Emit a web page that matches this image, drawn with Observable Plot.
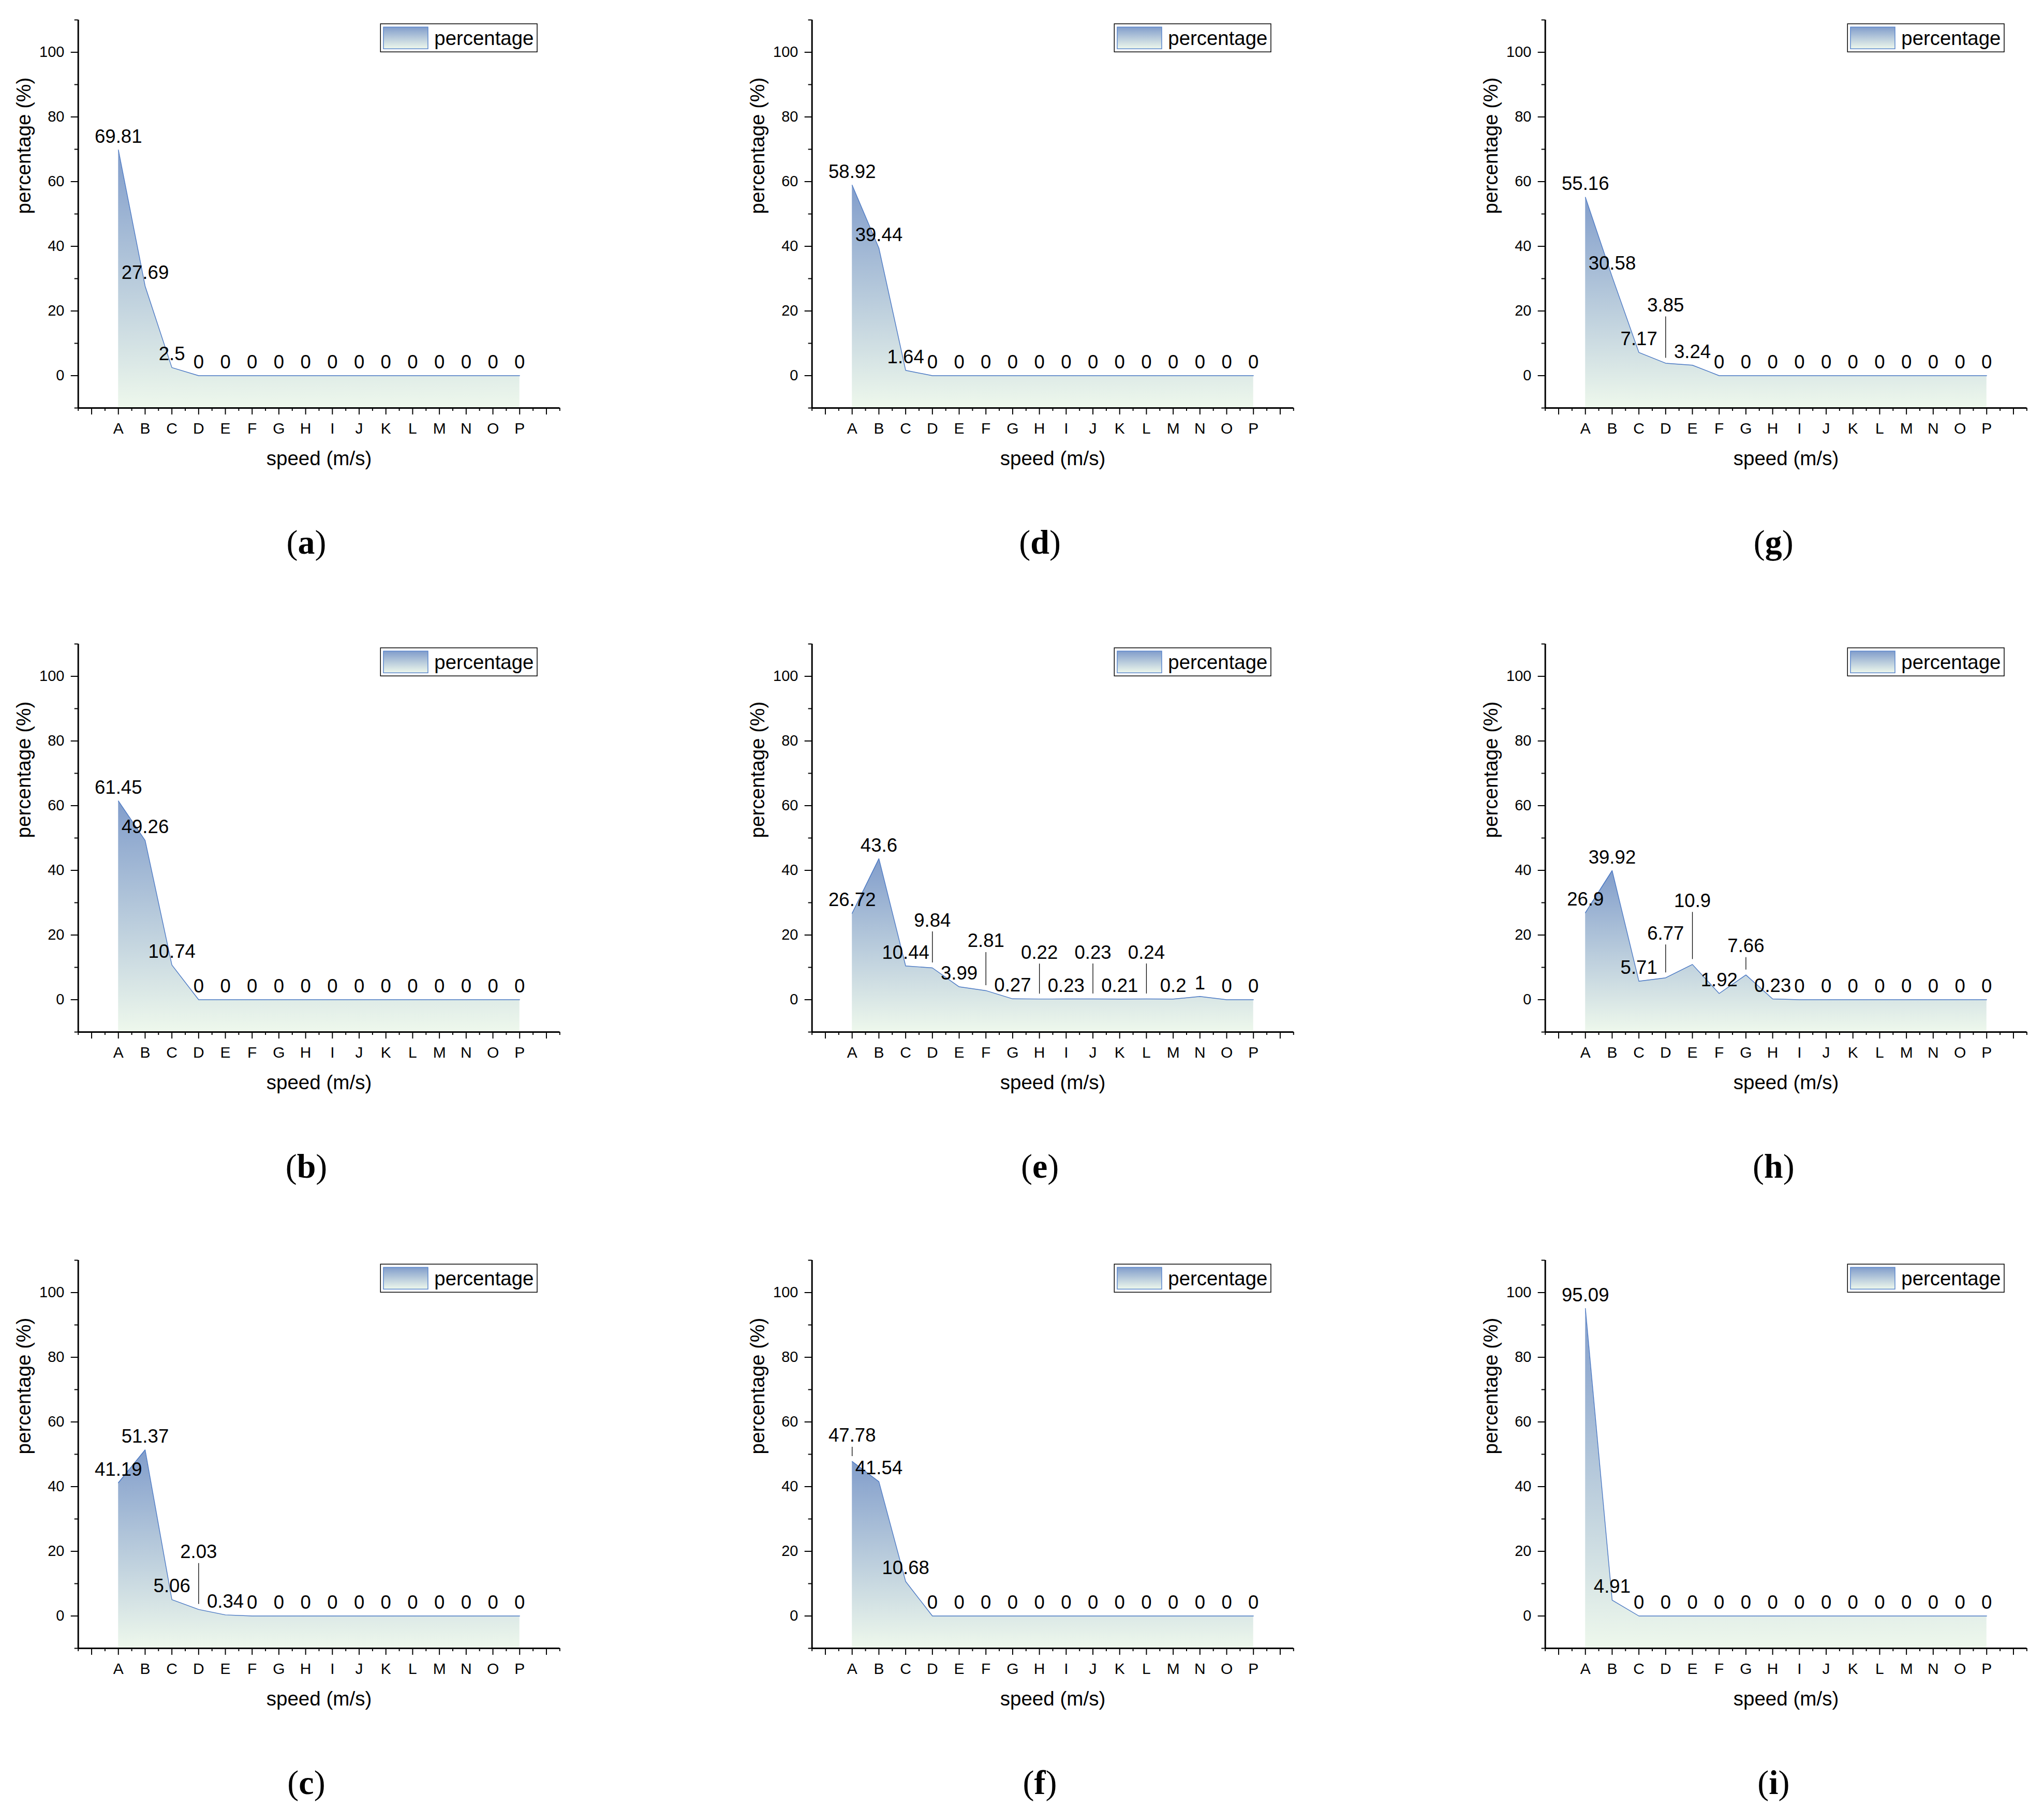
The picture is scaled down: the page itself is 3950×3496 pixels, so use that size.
<!DOCTYPE html>
<html>
<head>
<meta charset="utf-8">
<script src="https://cdn.jsdelivr.net/npm/d3@7"></script>
<script src="https://cdn.jsdelivr.net/npm/@observablehq/plot@0.6"></script>
<style>
  html, body { margin: 0; padding: 0; background: #fff; }
  body { width: 3950px; height: 3496px; position: relative; overflow: hidden; font-family: "Liberation Sans", Arial, sans-serif; }
  .panel { position: absolute; width: 1300px; height: 1160px; }
  .panel svg { position: absolute; left: 0; top: 0; overflow: visible; }
  .cap { position: absolute; left: 0; width: 1184px; text-align: center; top: 1015px;
         font-family: "Liberation Serif", "Times New Roman", serif; font-size: 66px; line-height: 1; color: #000; }
  .cap b { font-weight: bold; }
</style>
</head>
<body>
<script>
// ---------- data ----------
const categories = ["A","B","C","D","E","F","G","H","I","J","K","L","M","N","O","P"];

const valuesA = [69.81, 27.69, 2.5, 0, 0, 0, 0, 0, 0, 0, 0, 0, 0, 0, 0, 0];
const valuesB = [61.45, 49.26, 10.74, 0, 0, 0, 0, 0, 0, 0, 0, 0, 0, 0, 0, 0];
const valuesC = [41.19, 51.37, 5.06, 2.03, 0.34, 0, 0, 0, 0, 0, 0, 0, 0, 0, 0, 0];
const valuesD = [58.92, 39.44, 1.64, 0, 0, 0, 0, 0, 0, 0, 0, 0, 0, 0, 0, 0];
const valuesE = [26.72, 43.6, 10.44, 9.84, 3.99, 2.81, 0.27, 0.22, 0.23, 0.23, 0.21, 0.24, 0.2, 1, 0, 0];
const valuesF = [47.78, 41.54, 10.68, 0, 0, 0, 0, 0, 0, 0, 0, 0, 0, 0, 0, 0];
const valuesG = [55.16, 30.58, 7.17, 3.85, 3.24, 0, 0, 0, 0, 0, 0, 0, 0, 0, 0, 0];
const valuesH = [26.9, 39.92, 5.71, 6.77, 10.9, 1.92, 7.66, 0.23, 0, 0, 0, 0, 0, 0, 0, 0];
const valuesI = [95.09, 4.91, 0, 0, 0, 0, 0, 0, 0, 0, 0, 0, 0, 0, 0, 0];

const panelLetters = ["a","b","c","d","e","f","g","h","i"];
const panelValues  = [valuesA, valuesB, valuesC, valuesD, valuesE, valuesF, valuesG, valuesH, valuesI];

const yTicks = [0, 20, 40, 60, 80, 100];
const yMinorTicks = [-10, 10, 30, 50, 70, 90, 110];
const xDomain = [-1.5, 16.5];
const yDomain = [-10, 110];

const seriesName = "percentage";
const xTitle = "speed (m/s)";
const yTitle = "percentage (%)";

// ---------- layout / style (not data) ----------
// labels that the reference lifts above their point with a leader line (lift in px above point)
const liftedLabels = {
  c: {D: 99},
  e: {D: 80, F: 84, H: 78, J: 78, L: 78},
  f: {A: 38},
  g: {D: 100},
  h: {D: 74, E: 111, G: 44}
};
const colOffsets = [0, 1417.6, 2835.3];
const rowOffsets = [0, 1206, 2397];

const W = 1100, H = 920;
const mL = 150.7, mT = 38, mR = 18.7, mB = 132;
const innerH = H - mT - mB;
const ppu = innerH / (yDomain[1] - yDomain[0]);

const xMajor = d3.range(Math.ceil(xDomain[0]), Math.floor(xDomain[1]) + 1);
const xMinor = d3.range(xDomain[0], xDomain[1] + 0.001, 0.5).filter(v => !Number.isInteger(v));

const TOP = "#819dcb", BOTTOM = "#eef8ec";

panelLetters.forEach((letter, k) => {
  const col = Math.floor(k / 3), row = k % 3;
  const vals = panelValues[k];
  const lifts = liftedLabels[letter] || {};
  const rows = vals.map((v, i) => ({i, v, t: String(v), cat: categories[i], lift: lifts[categories[i]]}));
  const normal = rows.filter(d => d.lift === undefined);
  const lifted = rows.filter(d => d.lift !== undefined);
  const gid = "grad-" + letter;

  const svg = Plot.plot({
    width: W, height: H,
    marginLeft: mL, marginTop: mT, marginRight: mR, marginBottom: mB,
    style: {fontFamily: "'Liberation Sans', Arial, sans-serif", fontSize: "30px", background: "transparent", overflow: "visible"},
    x: {type: "linear", domain: xDomain},
    y: {type: "linear", domain: yDomain},
    marks: [
      Plot.areaY(rows, {x: "i", y1: () => yDomain[0], y2: "v", fill: `url(#${gid})`}),
      Plot.line(rows, {x: "i", y: "v", stroke: "#4a78c4", strokeWidth: 1.4}),
      // axes
      Plot.axisX({ticks: xMinor, tickSize: 6, tickFormat: () => "", strokeWidth: 2, label: null}),
      Plot.axisX({ticks: xMajor, tickSize: 13, tickPadding: 14.7, strokeWidth: 2, fontSize: 30, label: null,
                  tickFormat: d => categories[d] ?? ""}),
      Plot.axisY({ticks: yMinorTicks, tickSize: 7, tickFormat: () => "", strokeWidth: 2, label: null}),
      Plot.axisY({ticks: yTicks, tickSize: 14, tickPadding: 12.7, strokeWidth: 2, fontSize: 29, label: null}),
      Plot.ruleX([xDomain[0]], {strokeWidth: 3, stroke: "#000"}),
      Plot.ruleY([yDomain[0]], {strokeWidth: 3, stroke: "#000"}),
      // value labels
      Plot.text(normal, {x: "i", y: "v", text: "t", dy: -14, lineAnchor: "bottom", fontSize: 36.6, fill: "#000"}),
      Plot.ruleX(lifted, {x: "i", y1: d => d.v + 10 / ppu, y2: d => d.v + (d.lift - 10) / ppu, stroke: "#000", strokeWidth: 1.3}),
      Plot.text(lifted, {x: "i", y: d => d.v + d.lift / ppu, text: "t", lineAnchor: "bottom", fontSize: 36.6, fill: "#000"}),
      // axis titles
      Plot.text([yTitle], {text: d => d, frameAnchor: "left", rotate: -90, dx: -104.2, fontSize: 38.6, fill: "#000"}),
      Plot.text([xTitle], {text: d => d, frameAnchor: "bottom", dy: 110, lineAnchor: "bottom", fontSize: 38.6, fill: "#000"})
    ]
  });

  const s = d3.select(svg);
  const grad = s.insert("defs", ":first-child").append("linearGradient")
    .attr("id", gid).attr("x1", 0).attr("y1", 0).attr("x2", 0).attr("y2", 1);
  grad.append("stop").attr("offset", 0).attr("stop-color", TOP);
  grad.append("stop").attr("offset", 1).attr("stop-color", BOTTOM);
  s.selectAll('g[aria-label="area"] path').attr("fill", `url(#${gid})`);

  // legend box
  const lg = s.append("g").attr("class", "legend").attr("text-anchor", "start");
  lg.append("rect").attr("x", 735.3).attr("y", 46).attr("width", 302.7).attr("height", 54.3)
    .attr("fill", "#fff").attr("stroke", "#000").attr("stroke-width", 1.5);
  lg.append("rect").attr("x", 741).attr("y", 52.3).attr("width", 86).attr("height", 42)
    .attr("fill", `url(#${gid})`).attr("stroke", "#5b87cc").attr("stroke-width", 1.5);
  lg.append("text").attr("x", 839.3).attr("y", 86.7).attr("font-size", 38.4).attr("fill", "#000")
    .attr("text-anchor", "start").text(seriesName);

  const panel = document.createElement("div");
  panel.className = "panel";
  panel.style.left = colOffsets[col] + "px";
  panel.style.top = rowOffsets[row] + "px";
  panel.appendChild(svg);
  const cap = document.createElement("div");
  cap.className = "cap";
  cap.innerHTML = "(<b>" + letter + "</b>)";
  panel.appendChild(cap);
  document.body.appendChild(panel);
});
</script>
</body>
</html>
